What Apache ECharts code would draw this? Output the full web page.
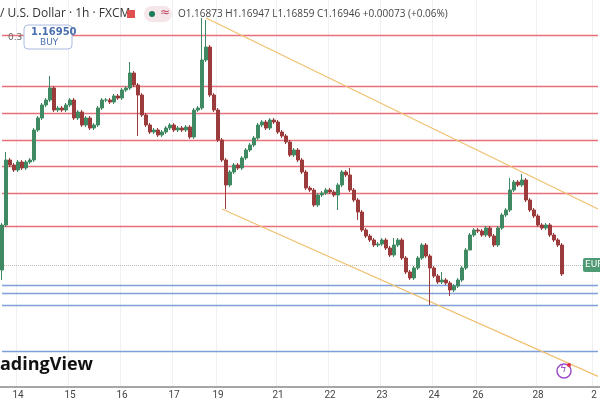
<!DOCTYPE html>
<html><head><meta charset="utf-8">
<script src="https://cdn.jsdelivr.net/npm/echarts@6/dist/echarts.min.js"></script>
<style>html,body{margin:0;padding:0;background:#fff}#c{width:600px;height:400px}</style>
</head><body><div id="c"></div>
<script>
const closes = [
1.15975,1.1630,1.16275,1.1625,1.1629,1.1626,1.1629,1.1630,1.1645,1.1651,
1.16575,1.1660,1.1666,1.1655,1.1656,1.1655,1.16575,1.1660,1.1651,1.1654,
1.16475,1.1651,1.1646,1.16475,1.1656,1.1660,1.1660,1.1659,1.1662,1.1661,
1.1665,1.1666,1.16735,1.16675,1.16625,1.16525,1.16475,1.1644,1.1645,1.16425,
1.1644,1.1646,1.16475,1.1645,1.1646,1.1645,1.16465,1.16415,1.1655,1.1656,
1.1680,1.16865,1.16625,1.1655,1.1640,1.1630,1.16175,1.1624,1.16275,1.1626,
1.1631,1.1635,1.16375,1.1641,1.16475,1.1649,1.1646,1.1650,1.1649,1.1644,
1.1642,1.1639,1.16325,1.1635,1.1630,1.1624,1.1616,1.1615,1.16075,1.16125,
1.16135,1.1615,1.1614,1.16125,1.16175,1.1624,1.16225,1.1615,1.1610,1.1604,
1.1595,1.1592,1.1590,1.15875,1.1588,1.1590,1.1586,1.15825,1.15875,1.1590,
1.1581,1.1574,1.1571,1.1576,1.1581,1.15875,1.1582,1.1576,1.1572,1.1569,
1.1570,1.15685,1.1565,1.1567,1.1570,1.1576,1.1585,1.15925,1.1595,1.15945,
1.15925,1.1596,1.1592,1.15875,1.1596,1.16025,1.1605,1.1615,1.1619,1.16175,
1.1620,1.1610,1.1605,1.1602,1.15975,1.1596,1.15975,1.15925,1.1590,1.15875,
1.1573];
const firstOpen = 1.1575;
const highMarks = {1:1.1634,12:1.1672,32:1.1679,50:1.1701,51:1.1700,87:1.1626,110:1.1574,127:1.1621,130:1.1623,98:1.1591};
const lowMarks = {0:1.1570,56:1.16055,89:1.1600,107:1.15575,112:1.1562,117:1.1588,140:1.1572,34:1.1642,84:1.1605};
const dayLabels = {4:'14',17:'15',30:'16',43:'17',54:'19',69:'21',82:'22',95:'23',108:'24',119:'26',134:'28',148:'2'};
const redLevels = [1.16925,1.1667,1.16535,1.1640,1.1627,1.16135,1.1597];
const blueLevels = [1.15675,1.15635,1.15575,1.15345];
const currentLevel = [1.15775];
const channelUpper = [[51,1.1701],[149,1.16055]];
const channelLower = [[55,1.16055],[149,1.15218]];
const nCats = 150;

const cats = [], data = [];
for (let i = 0; i < nCats; i++) cats.push(dayLabels[i] || '');
for (let i = 0; i < closes.length; i++) {
  const o = i === 0 ? firstOpen : closes[i-1], c = closes[i];
  const hi = highMarks[i] !== undefined ? highMarks[i] : Math.max(o,c) + 0.0001;
  const lo = lowMarks[i] !== undefined ? lowMarks[i] : Math.min(o,c) - 0.0001;
  data.push([o, c, lo, hi]);
}
const levelSeries = (levels, color, type, w) => ({
  type:'line', data:[], silent:true,
  markLine:{symbol:'none',silent:true,label:{show:false},animation:false,
    lineStyle:{color:color,width:w,type:type},
    emphasis:{disabled:true},
    data:levels.map(v => [{coord:[0,v]},{coord:[nCats-1,v]}])}
});
const chanSeries = {
  type:'line', data:[], silent:true,
  markLine:{symbol:'none',silent:true,label:{show:false},
    lineStyle:{color:'#f0c070',width:1.2,type:'solid'},
    data:[channelUpper, channelLower].map(ch => [{coord:ch[0]},{coord:ch[1]}])}
};

const chart = echarts.init(document.getElementById('c'));
chart.setOption({
  animation:false,
  grid:{left:0,right:0,top:0,bottom:13},
  xAxis:{type:'category',data:cats,boundaryGap:true,
    axisLine:{lineStyle:{color:'#888',width:1.5}},axisTick:{show:false},
    axisLabel:{interval:(i)=>dayLabels[i]!==undefined,color:'#444',fontSize:10,fontFamily:'Roboto',margin:3},
    splitLine:{show:true,interval:(i)=>dayLabels[i]!==undefined,lineStyle:{color:'#eef0f4'}}},
  yAxis:{type:'value',min:1.15165,max:1.1710,show:false},
  series:[
    levelSeries(redLevels,'#e8707a','solid',1.4),
    levelSeries(blueLevels,'#7f9fd8','solid',1.4),
    levelSeries(currentLevel,'#bbbbbb','dotted',1),
    chanSeries,
    {type:'candlestick',data:data,barWidth:2.6,z:5,
    itemStyle:{color:'#3f8a62',color0:'#9c3b3b',borderColor:'#3f8a62',borderColor0:'#9c3b3b',borderWidth:1}}],
  graphic:[
    {type:'text',z:101,left:0,top:8,style:{text:'/ U.S. Dollar · 1h · FXCM',font:'500 12px "Open Sans"',fill:'#333'}},
    {type:'rect',z:101,shape:{x:127,y:10,width:8,height:8},style:{fill:'#e05050'}},
    {type:'rect',z:101,shape:{x:144,y:6,width:28,height:16,r:8},style:{fill:'#f5e6ea'}},
    {type:'circle',z:102,shape:{cx:152,cy:14,r:3},style:{fill:'#1b7a5a'}},
    {type:'text',z:102,left:160,top:7,style:{text:'≈',font:'12px "DejaVu Sans"',fill:'#c04060'}},
    {type:'text',z:101,left:178,top:9,style:{text:'O1.16873 H1.16947 L1.16859 C1.16946 +0.00073 (+0.06%)',font:'10px "Open Sans"',fill:'#444'}},
    {type:'text',z:101,left:8,top:33,style:{text:'0.3',font:'9px "DejaVu Sans"',fill:'#666'}},
    {type:'rect',z:101,shape:{x:24,y:25,width:48,height:24,r:4},style:{fill:'#fff',stroke:'#a8bce0'}},
    {type:'text',z:102,left:31,top:27,style:{text:'1.16950',font:'bold 10px "DejaVu Sans"',fill:'#4a6fb0'}},
    {type:'text',z:102,left:40,top:38,style:{text:'BUY',font:'9px "DejaVu Sans"',fill:'#4a6fb0'}},
    {type:'text',z:101,left:0,top:356,style:{text:'adingView',font:'bold 18px "Open Sans"',fill:'#111'}},
    {type:'rect',z:101,shape:{x:583,y:258,width:20,height:14,r:2},style:{fill:'#4d9a74'}},
    {type:'text',z:102,left:585,top:260,style:{text:'EUR',font:'9px "DejaVu Sans"',fill:'#fff'}},
    {type:'circle',z:101,shape:{cx:564,cy:371,r:7},style:{fill:'#fff',stroke:'#9b4fc8',lineWidth:1.5}},
    {type:'text',z:102,left:560,top:364,style:{text:'ϟ',font:'10px "DejaVu Sans"',fill:'#9b4fc8'}},
    {type:'circle',z:102,shape:{cx:569,cy:365,r:2},style:{fill:'#e03040'}}
  ]
});
</script></body></html>
